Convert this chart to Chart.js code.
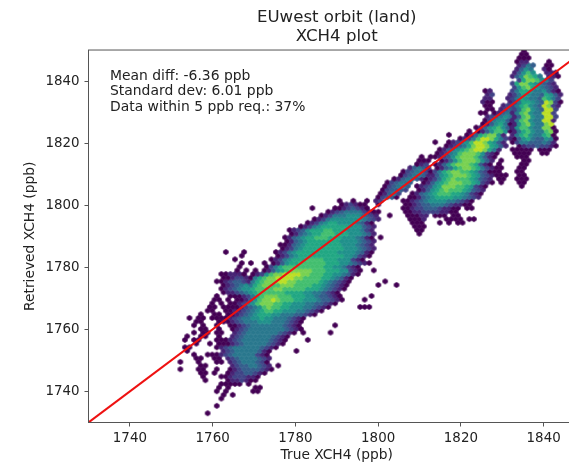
<!DOCTYPE html>
<html>
<head>
<meta charset="utf-8">
<script src="https://cdn.jsdelivr.net/npm/chart.js@4/dist/chart.umd.min.js"></script>
<style>
  html, body { margin: 0; padding: 0; background: #fff; overflow: hidden; width: 569px; height: 464px; }
  canvas { filter: blur(0.35px); }
</style>
</head>
<body>
<canvas id="chart" width="590" height="464"></canvas>
<script>
const titleLines = ['EUwest orbit (land)', 'XCH4 plot'];
const xLabel = 'True XCH4 (ppb)';
const yLabel = 'Retrieved XCH4 (ppb)';
const statsLines = ['Mean diff: -6.36 ppb', 'Standard dev: 6.01 ppb', 'Data within 5 ppb req.: 37%'];
const xTicks = [1740, 1760, 1780, 1800, 1820, 1840];
const yTicks = [1740, 1760, 1780, 1800, 1820, 1840];
const oneToOne = [1730, 1850];

// hexbin grid
const binX0 = 1750, binW = 1.1;
const binY0 = 1733, binH = 1.18;

// one string per hex row, one char per bin: . empty, 0-9 density level
const mainCluster = [
  '........0',
  '',
  '..........0',
  '',
  '...........0',
  '...........0.0',
  '..........0.0.....00',
  '..........0.0.....00',
  '...........00000.0',
  '.......0....0112100',
  '.......0...001222110',
  '......00.0..012233210',
  '..0...00..0..0123333210',
  '......00.....123344321.0',
  '..0...0...00.123444320',
  '.....00..00.1234444321',
  '.....0..00012344444210',
  '...0.......12344444310.....0',
  '...00.....01234444443210',
  '.....0..0.000123444443210',
  '...0.00...0001234444443210....0',
  '...0..00..0..1234444443210',
  '.....0.00.00..12344444443210.0.....0',
  '......00..0..0123444444443210',
  '.....0.0..0..0012344444443210.......0',
  '.....00...0001234445554443210',
  '....0.00.000012344556554443210',
  '......0..00.00123456665544433210',
  '........00..0011234567766555443210',
  '........00.000012345787766555443210......000',
  '.........0.0.001245788877665554433210',
  '.........00.0.001357889877766555433210....0',
  '..........0..0001246788877766655433210......0',
  '...........01123456777777666655443210',
  '...........0123455677778877777666543210',
  '...........0123454678877888777766543210......0...0',
  '..........001233214678889988777776543210.......0',
  '...........00122104678899998877776654310',
  '...........001110.012578899998877766554310',
  '..............0.0.0.0135678888877766655210..0',
  '...............0.....024677777777766554210',
  '...............0.0..0.0135667777776665543210',
  '..............0.......012456667777666555210',
  '...............0.......012456666666666554210',
  '............0...0......0124566666666655554310',
  '........................012456666666665554321',
  '........................001345666666665554321',
  '.........................01345666666655554321',
  '.........................01345667776665554310.0',
  '..........................0134566777666555431',
  '..........................0123566677666555421',
  '............................01245666666555321',
  '..............................012456655554310',
  '...............................012455555554321',
  '.................................0124445554321..0',
  '..................................01234444210',
  '...............................0....00123210',
  '.....................................012100',
  '.....................................0..0..0'
];

const upperCluster = [
  '.........0',
  '.........00',
  '........000',
  '........000...0.0.00',
  '.......0001....0000.00',
  '.......00011.000.00',
  '0.....001122221100',
  '......0012233321100.00',
  '0.....001233444321100',
  '12....0012345555443210',
  '02330..0013456666554321',
  '.01342..0134567776654210',
  '.023332..013567877765321',
  '..023443.0123568887765210',
  '..023443..0135678887765210.0',
  '....0134431012467877765321.00',
  '.....023443113567888765321000',
  '......0234420246788776532000',
  '.......13431.013467887642100',
  '.........012.0135788876310.0',
  '.........000..013578887531.0',
  '..........0.001235788875310',
  '.............01245788875210',
  '..............01345678998641',
  '...............01234689986531',
  '.............0..0124579986531',
  '..................012479986421',
  '................0...013678851',
  '....................0.013577500',
  '......................0135675300',
  '.......................01356400',
  '........................0245531',
  '........................1234542',
  '.......................00.0134432',
  '........................00.123344',
  '........................00..12343',
  '.......................100...1233',
  '........................11....123',
  '........................12',
  '........................01'
];

const topCluster = [
  '...0',
  '..00',
  '..000',
  '..00',
  '..00',
  '..00',
  '...00',
  '...00',
  '..000',
  '.0000..00',
  '.00000.000',
  '..012232210',
  '.0244333431',
  '.0356433540',
  '.1467544670',
  '.1467544780',
  '.1577544880',
  '.157854489',
  '.1478544991',
  '.1378544992',
  '.1478544992',
  '.2478543992',
  '.24675439821',
  '.24665439820',
  '124654437642',
  '124654436531',
  '.24665445310',
  '.2578654321',
  '.2688654321',
  '..26887542',
  '.1358764.110',
  '.13575..110',
  '..1354..10',
  '..1243..00',
  '..011....0',
  '..000',
  '...00',
  '...0'
];

const clusters = [
  { cells: mainCluster, col: 0, row: 0 },
  { cells: upperCluster, col: 45, row: 49 },
  { cells: topCluster, col: 74, row: 62 }
];

// viridis, low to high
const levelColors = ['#440154', '#482475', '#414487', '#355f8d', '#2a788e', '#21918c', '#22a884', '#44bf70', '#7ad151', '#bddf26'];

function hexSprite(color) {
  const c = document.createElement('canvas');
  c.width = 8;
  c.height = 8;
  const g = c.getContext('2d');
  g.beginPath();
  for (let i = 0; i < 6; i++) {
    const a = Math.PI / 6 + i * Math.PI / 3;
    const px = 4 + 2.7 * Math.cos(a);
    const py = 4 + 2.6 * Math.sin(a);
    if (i === 0) g.moveTo(px, py); else g.lineTo(px, py);
  }
  g.closePath();
  g.fillStyle = color;
  g.strokeStyle = color;
  g.lineWidth = 0.7;
  g.fill();
  g.stroke();
  return c;
}
const sprites = levelColors.map(hexSprite);

const hexPoints = [];
clusters.forEach(cl => {
  cl.cells.forEach((line, i) => {
    const r = cl.row + i;
    [...line].forEach((ch, j) => {
      if (ch === '.') return;
      hexPoints.push({
        x: binX0 + (cl.col + j) * binW + (r % 2 ? binW / 2 : 0),
        y: binY0 + r * binH,
        level: Number(ch)
      });
    });
  });
});

const frameAndStats = {
  id: 'frameAndStats',
  afterDraw(chart) {
    const { ctx, chartArea: a } = chart;
    ctx.save();
    ctx.strokeStyle = '#555';
    ctx.lineWidth = 1;
    ctx.strokeRect(a.left, a.top, a.right - a.left, a.bottom - a.top);
    ctx.fillStyle = '#222';
    ctx.font = '13.9px "DejaVu Sans"';
    ctx.textBaseline = 'middle';
    statsLines.forEach((t, i) => ctx.fillText(t, 110, 76 + i * 15.8));
    ctx.restore();
  }
};

new Chart(document.getElementById('chart'), {
  type: 'scatter',
  data: {
    datasets: [
      {
        data: oneToOne.map(v => ({ x: v, y: v })),
        showLine: true,
        borderColor: '#ee1111',
        borderWidth: 2,
        pointRadius: 0,
        order: 0
      },
      {
        data: hexPoints,
        pointStyle: ctx => sprites[ctx.raw ? ctx.raw.level : 0],
        order: 1
      }
    ]
  },
  options: {
    responsive: false,
    animation: false,
    layout: { padding: 0 },
    plugins: {
      legend: { display: false },
      tooltip: { enabled: false },
      title: {
        display: true,
        fullSize: false,
        text: titleLines,
        color: '#222',
        font: { family: '"DejaVu Sans"', size: 16.6, weight: 'normal', lineHeight: 1.1 },
        padding: { top: 9, bottom: 4.5 }
      }
    },
    scales: {
      x: {
        type: 'linear',
        min: 1730,
        max: 1850,
        afterBuildTicks: s => { s.ticks = xTicks.map(value => ({ value })); },
        afterFit: s => { s.height = 41.5; },
        grid: { drawOnChartArea: false, color: '#555', tickLength: 4 },
        border: { color: '#555' },
        ticks: { color: '#222', font: { family: '"DejaVu Sans"', size: 13.4 }, padding: 4, maxRotation: 0, callback: v => String(v) },
        title: { display: true, text: xLabel, color: '#222', font: { family: '"DejaVu Sans"', size: 13.8 }, padding: { top: 2, bottom: 0 } }
      },
      y: {
        type: 'linear',
        min: 1730,
        max: 1850,
        afterBuildTicks: s => { s.ticks = yTicks.map(value => ({ value })); },
        afterFit: s => { s.width = 88.5; },
        grid: { drawOnChartArea: false, color: '#555', tickLength: 4 },
        border: { color: '#555' },
        ticks: { color: '#222', font: { family: '"DejaVu Sans"', size: 13.4 }, padding: 5, callback: v => String(v) },
        title: { display: true, text: yLabel, color: '#222', font: { family: '"DejaVu Sans"', size: 13.8 }, padding: { top: 22, bottom: 0 } }
      }
    }
  },
  plugins: [frameAndStats]
});
</script>
</body>
</html>
